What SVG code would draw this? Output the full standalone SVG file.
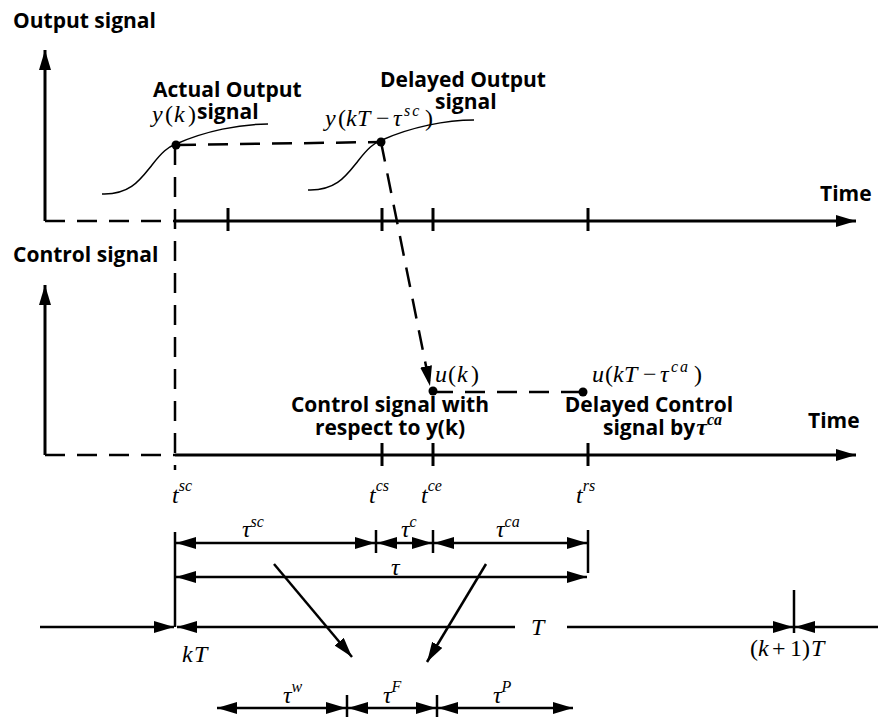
<svg xmlns="http://www.w3.org/2000/svg" width="878" height="717" viewBox="0 0 878 717">
<defs>
<marker id="ah" markerUnits="userSpaceOnUse" markerWidth="21" markerHeight="13" refX="20" refY="6" orient="auto-start-reverse" viewBox="0 0 21 13">
<path d="M0,0 L20,6 L0,12 z" fill="#000"/>
</marker>
<style>
.ln{stroke:#000;stroke-width:2.5;fill:none}
.ax{stroke:#000;stroke-width:3;fill:none}
.ds{stroke:#000;stroke-width:2.5;fill:none;stroke-dasharray:20 12}
.cv{stroke:#000;stroke-width:1.5;fill:none}
.lb{font-family:"Open Sans","Liberation Sans",sans-serif;font-weight:bold;font-size:21px;fill:#000}
.mt{font-family:"Liberation Serif","Times New Roman",serif;font-style:italic;font-size:24px;fill:#000}
.up{font-style:normal}
.sp{font-size:16px}
.ws{letter-spacing:2px}
</style>
</defs>
<rect width="878" height="717" fill="#fff"/>

<g id="output-axes">
<line class="ax" x1="45" y1="221" x2="45" y2="50" marker-end="url(#ah)"/>
<line class="ds" x1="45" y1="221" x2="175" y2="221"/>
<line class="ax" x1="175" y1="221" x2="856" y2="221" marker-end="url(#ah)"/>
<line class="ax" x1="228" y1="208" x2="228" y2="231"/>
<line class="ax" x1="382" y1="208" x2="382" y2="231"/>
<line class="ax" x1="433" y1="208" x2="433" y2="231"/>
<line class="ax" x1="588" y1="208" x2="588" y2="231"/>
<text class="lb" x="13" y="28">Output signal</text>
<text class="lb" x="820" y="201">Time</text>
</g>

<g id="control-axes">
<line class="ax" x1="45" y1="455" x2="45" y2="285" marker-end="url(#ah)"/>
<line class="ds" x1="45" y1="455" x2="175" y2="455"/>
<line class="ax" x1="175" y1="455" x2="856" y2="455" marker-end="url(#ah)"/>
<line class="ax" x1="382" y1="443" x2="382" y2="466"/>
<line class="ax" x1="433" y1="443" x2="433" y2="466"/>
<line class="ax" x1="588" y1="443" x2="588" y2="466"/>
<text class="lb" x="13" y="262">Control signal</text>
<text class="lb" x="808" y="428">Time</text>
</g>

<g id="actual-output">
<path class="cv" d="M102,194 C130,195 140,180 152,165 C162,152 168,147 176,144 C205,131 240,124 268,124"/>
<circle cx="176" cy="145" r="4.5" fill="#000"/>
<text class="lb" x="153" y="97">Actual Output</text>
<text class="mt" y="122"><tspan x="152">y</tspan><tspan class="up" x="165">(</tspan><tspan x="174">k</tspan><tspan class="up" x="188">)</tspan></text>
<text class="lb" x="197" y="119">signal</text>
</g>

<g id="delayed-output">
<path class="cv" d="M308,190 C336,191 346,176 358,161 C368,148 374,143 382,140 C411,127 446,120 474,120"/>
<circle cx="381" cy="142" r="4.5" fill="#000"/>
<text class="lb" x="380" y="87">Delayed Output</text>
<text class="lb" x="435" y="109">signal</text>
<text class="mt" y="126"><tspan x="325">y</tspan><tspan class="up" x="338">(</tspan><tspan x="346">k</tspan><tspan x="357">T</tspan><tspan class="up" x="376">−</tspan><tspan x="393">τ</tspan><tspan class="sp ws" x="404" dy="-10">sc</tspan><tspan class="up" x="425" dy="10">)</tspan></text>
</g>

<g id="control-uk">
<circle cx="433" cy="391" r="4.5" fill="#000"/>
<text class="mt" y="382"><tspan x="435">u</tspan><tspan class="up" x="448">(</tspan><tspan x="457">k</tspan><tspan class="up" x="471">)</tspan></text>
<text class="lb" x="390" y="412" text-anchor="middle">Control signal with</text>
<text class="lb" x="390" y="435" text-anchor="middle">respect to y(k)</text>
</g>

<g id="control-delayed">
<circle cx="583" cy="392" r="4.5" fill="#000"/>
<text class="mt" y="382"><tspan x="592">u</tspan><tspan class="up" x="605">(</tspan><tspan x="613">k</tspan><tspan x="624">T</tspan><tspan class="up" x="643">−</tspan><tspan x="660">τ</tspan><tspan class="sp ws" x="671" dy="-10">ca</tspan><tspan class="up" x="694" dy="10">)</tspan></text>
<text class="lb" x="649" y="412" text-anchor="middle">Delayed Control</text>
<text class="lb" x="603" y="435">signal by<tspan class="mt" dx="1">τ<tspan class="sp" dy="-10">ca</tspan></tspan></text>
</g>

<g id="connectors">
<line class="ds" x1="176" y1="145" x2="381" y2="142"/>
<line class="ds" x1="175" y1="145" x2="175" y2="470"/>
<line class="ds" x1="381" y1="142" x2="430" y2="386" marker-end="url(#ah)"/>
<line class="ds" x1="433" y1="392" x2="583" y2="392"/>
<line class="ln" x1="274" y1="564" x2="352" y2="657" marker-end="url(#ah)"/>
<line class="ln" x1="486" y1="564" x2="427" y2="662" marker-end="url(#ah)"/>
</g>

<g id="time-labels">
<text class="mt" x="172" y="503">t<tspan class="sp" dy="-12">sc</tspan></text>
<text class="mt" x="369" y="503">t<tspan class="sp" dy="-12">cs</tspan></text>
<text class="mt" x="421" y="503">t<tspan class="sp" dy="-12">ce</tspan></text>
<text class="mt" x="576" y="503">t<tspan class="sp" dy="-12">rs</tspan></text>
</g>

<g id="delay-intervals">
<line class="ln" x1="175" y1="532" x2="175" y2="627"/>
<line class="ln" x1="376" y1="530" x2="376" y2="553"/>
<line class="ln" x1="433" y1="530" x2="433" y2="553"/>
<line class="ln" x1="588" y1="530" x2="588" y2="573"/>
<line class="ln" x1="176" y1="543" x2="375" y2="543" marker-start="url(#ah)" marker-end="url(#ah)"/>
<line class="ln" x1="377" y1="543" x2="432" y2="543" marker-start="url(#ah)" marker-end="url(#ah)"/>
<line class="ln" x1="434" y1="543" x2="587" y2="543" marker-start="url(#ah)" marker-end="url(#ah)"/>
<line class="ln" x1="176" y1="577" x2="587" y2="577" marker-start="url(#ah)" marker-end="url(#ah)"/>
<text class="mt" x="242" y="537">τ<tspan class="sp" dy="-10">sc</tspan></text>
<text class="mt" x="401" y="537">τ<tspan class="sp" dy="-10">c</tspan></text>
<text class="mt" x="496" y="537">τ<tspan class="sp" dy="-10">ca</tspan></text>
<text class="mt" x="391" y="575">τ</text>
</g>

<g id="period-axis">
<line class="ln" x1="40" y1="627" x2="174" y2="627" marker-end="url(#ah)"/>
<line class="ln" x1="515" y1="627" x2="177" y2="627" marker-end="url(#ah)"/>
<line class="ln" x1="567" y1="627" x2="793" y2="627" marker-end="url(#ah)"/>
<line class="ln" x1="878" y1="627" x2="795" y2="627" marker-end="url(#ah)"/>
<line class="ln" x1="794" y1="590" x2="794" y2="633"/>
<text class="mt" y="662"><tspan x="182">k</tspan><tspan x="194">T</tspan></text>
<text class="mt" x="531" y="635">T</text>
<text class="mt" y="656"><tspan class="up" x="750">(</tspan><tspan x="758">k</tspan><tspan class="up" x="772">+</tspan><tspan class="up" x="790">1</tspan><tspan class="up" x="802">)</tspan><tspan x="811">T</tspan></text>
</g>

<g id="sub-delays">
<line class="ln" x1="347" y1="695" x2="347" y2="717"/>
<line class="ln" x1="437" y1="695" x2="437" y2="717"/>
<line class="ln" x1="217" y1="708" x2="346" y2="708" marker-start="url(#ah)" marker-end="url(#ah)"/>
<line class="ln" x1="348" y1="708" x2="436" y2="708" marker-start="url(#ah)" marker-end="url(#ah)"/>
<line class="ln" x1="438" y1="708" x2="573" y2="708" marker-start="url(#ah)" marker-end="url(#ah)"/>
<text class="mt" x="283" y="703">τ<tspan class="sp" dy="-11">w</tspan></text>
<text class="mt" x="383" y="703">τ<tspan class="sp" dy="-11">F</tspan></text>
<text class="mt" x="493" y="703">τ<tspan class="sp" dy="-11">P</tspan></text>
</g>
</svg>
